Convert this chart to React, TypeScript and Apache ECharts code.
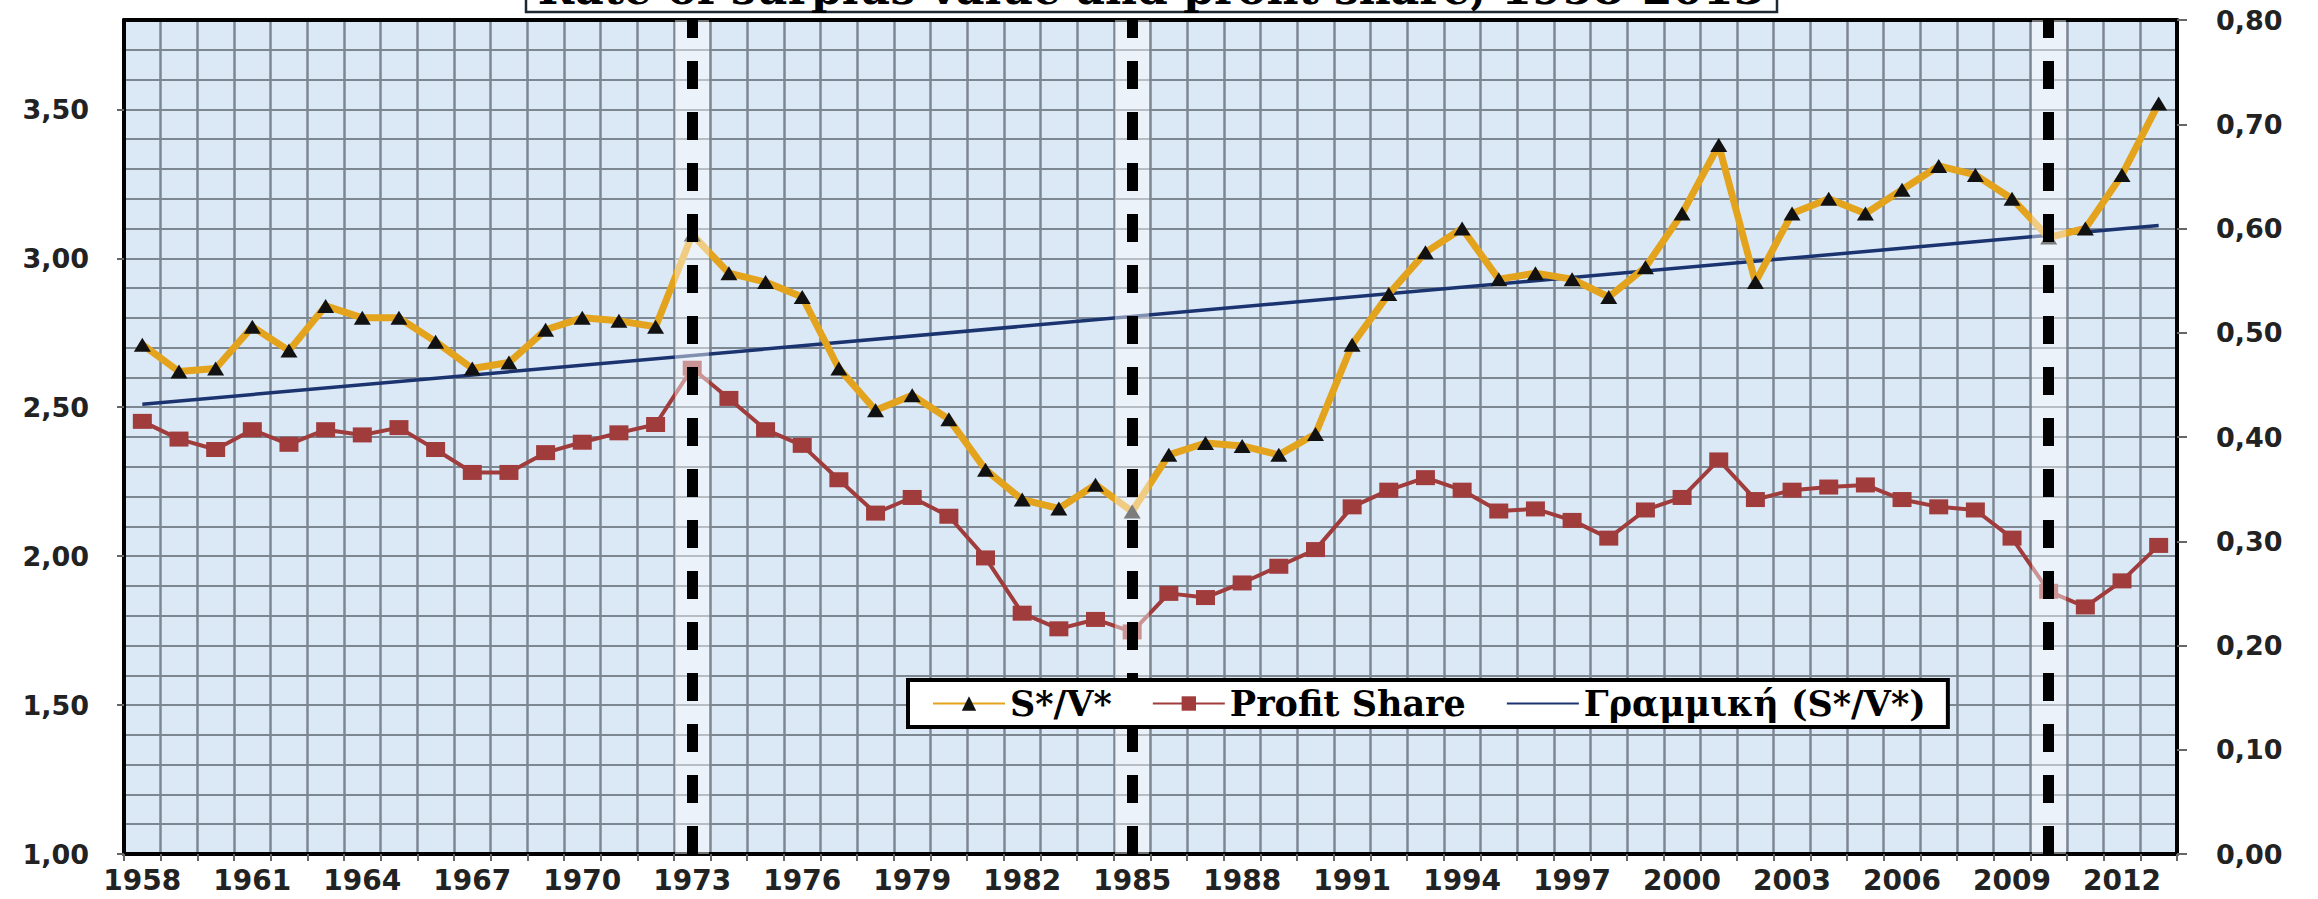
import React, { useEffect, useRef } from "react";
import * as echarts from "echarts";

const years = [
  "1958", "1959", "1960", "1961", "1962", "1963", "1964", "1965", "1966", "1967",
  "1968", "1969", "1970", "1971", "1972", "1973", "1974", "1975", "1976", "1977",
  "1978", "1979", "1980", "1981", "1982", "1983", "1984", "1985", "1986", "1987",
  "1988", "1989", "1990", "1991", "1992", "1993", "1994", "1995", "1996", "1997",
  "1998", "1999", "2000", "2001", "2002", "2003", "2004", "2005", "2006", "2007",
  "2008", "2009", "2010", "2011", "2012", "2013",
];

// S*/V* (left axis)
const surplusRate = [
  2.71, 2.62, 2.63, 2.77, 2.69, 2.84, 2.80, 2.80, 2.72, 2.63,
  2.65, 2.76, 2.80, 2.79, 2.77, 3.08, 2.95, 2.92, 2.87, 2.63,
  2.49, 2.54, 2.46, 2.29, 2.19, 2.16, 2.24, 2.15, 2.34, 2.38,
  2.37, 2.34, 2.41, 2.71, 2.88, 3.02, 3.10, 2.93, 2.95, 2.93,
  2.87, 2.97, 3.15, 3.38, 2.92, 3.15, 3.20, 3.15, 3.23, 3.31,
  3.28, 3.20, 3.07, 3.10, 3.28, 3.52,
];

// Profit Share (right axis)
const profitShare = [
  0.415, 0.398, 0.388, 0.407, 0.393, 0.407, 0.402, 0.409, 0.388, 0.366,
  0.366, 0.385, 0.395, 0.404, 0.412, 0.466, 0.437, 0.407, 0.392, 0.359,
  0.327, 0.342, 0.324, 0.284, 0.231, 0.216, 0.225, 0.213, 0.250, 0.246,
  0.260, 0.276, 0.292, 0.333, 0.349, 0.361, 0.349, 0.329, 0.331, 0.320,
  0.303, 0.330, 0.342, 0.378, 0.340, 0.349, 0.352, 0.354, 0.340, 0.333,
  0.330, 0.303, 0.252, 0.237, 0.262, 0.296,
];

// Linear trend of S*/V* (end points)
const trendYears = ["1958", "2013"];
const trendValues = [2.51, 3.11];

// Vertical dashed markers
const crisisYears = ["1973", "1985", "2010"];

const leftTicks = [1.0, 1.5, 2.0, 2.5, 3.0, 3.5];
const rightTicks = [0.0, 0.1, 0.2, 0.3, 0.4, 0.5, 0.6, 0.7, 0.8];

const seriesNames = ["S*/V*", "Profit Share", "Γραμμική (S*/V*)"];
const titleText = "Rate of surplus value and profit share, 1958-2013";

const fmt = (v: number) => v.toFixed(2).replace(".", ",");
const inList = (list: number[], v: number) => list.some((t) => Math.abs(t - v) < 1e-6);

const GRID_COLOR = "#7D8792";
const AXIS_FONT = {
  fontFamily: "DejaVu Sans",
  fontWeight: "bold" as const,
  fontSize: 27,
  color: "#222222",
};

export default function App() {
  const ref = useRef<HTMLDivElement>(null);

  useEffect(() => {
    if (!ref.current) return;
    const chart = echarts.init(ref.current, null, { renderer: "svg" });

    const option: any = {
      animation: false,
      backgroundColor: "#ffffff",
      grid: {
        left: 124,
        right: 141,
        top: 20,
        bottom: 45,
        show: true,
        backgroundColor: "#DBE8F6",
        borderWidth: 0,
      },
      legend: {
        data: [
          { name: seriesNames[0] },
          { name: seriesNames[1] },
          { name: seriesNames[2], itemStyle: { color: "rgba(0,0,0,0)", borderWidth: 0 } },
        ],
        left: 908,
        top: 680,
        orient: "horizontal",
        padding: [6, 22, 6, 24],
        itemGap: 40,
        itemWidth: 72,
        itemHeight: 18,
        backgroundColor: "#ffffff",
        borderColor: "#000000",
        borderWidth: 4,
        textStyle: {
          fontFamily: "DejaVu Serif",
          fontWeight: "bold",
          fontSize: 35,
          color: "#000000",
        },
        z: 6,
      },
      graphic: [
        {
          type: "rect",
          shape: { x: 526, y: -40, width: 1251, height: 52 },
          style: { fill: "#ffffff", stroke: "#1E2833", lineWidth: 2.5 },
          z: 10,
        },
        {
          type: "text",
          x: 1151,
          y: 10,
          style: {
            text: titleText,
            fontFamily: "DejaVu Serif",
            fontWeight: "bold",
            fontSize: 44,
            fill: "#000000",
            align: "center",
            verticalAlign: "bottom",
          },
          z: 11,
        },
      ],
      xAxis: [
        {
          type: "category",
          data: years,
          boundaryGap: true,
          position: "bottom",
          axisLine: { show: true, lineStyle: { color: "#000000", width: 4 } },
          axisTick: { show: true, interval: 0, length: 7, lineStyle: { color: "#666666", width: 2 } },
          axisLabel: { interval: 2, margin: 12, ...AXIS_FONT, fontSize: 28 },
          splitLine: {
            show: true,
            interval: 0,
            showMinLine: false,
            showMaxLine: false,
            lineStyle: { color: GRID_COLOR, width: 2.5 },
          },
        },
        {
          type: "category",
          data: years,
          position: "top",
          boundaryGap: true,
          axisLine: { show: true, lineStyle: { color: "#000000", width: 4 } },
          axisTick: { show: false },
          axisLabel: { show: false },
          splitLine: { show: false },
        },
      ],
      yAxis: [
        {
          type: "value",
          position: "left",
          min: 1,
          max: 3.8,
          interval: 0.5,
          axisLine: { show: true, lineStyle: { color: "#000000", width: 4 } },
          axisTick: { show: true, length: 7, customValues: leftTicks, lineStyle: { color: "#666666", width: 2 } },
          axisLabel: {
            margin: 35,
            customValues: leftTicks,
            formatter: (v: number) => (inList(leftTicks, v) ? fmt(v) : ""),
            ...AXIS_FONT,
          },
          splitLine: { show: false },
        },
        {
          type: "value",
          position: "right",
          min: 0,
          max: 0.8,
          interval: 0.1,
          axisLine: { show: true, lineStyle: { color: "#000000", width: 4 } },
          axisTick: { show: true, length: 10, lineStyle: { color: "#666666", width: 2 } },
          axisLabel: {
            margin: 39,
            formatter: (v: number) => (inList(rightTicks, v) ? fmt(v) : ""),
            ...AXIS_FONT,
          },
          splitLine: { show: false },
        },
        {
          type: "value",
          position: "left",
          min: 1,
          max: 3.8,
          interval: 0.1,
          axisLine: { show: false },
          axisTick: { show: false },
          axisLabel: { show: false },
          splitLine: {
            show: true,
            showMinLine: false,
            showMaxLine: false,
            lineStyle: { color: GRID_COLOR, width: 2 },
          },
        },
      ],
      series: [
        {
          name: "crisis-markers",
          type: "line",
          xAxisIndex: 0,
          yAxisIndex: 0,
          data: [],
          z: 1,
          silent: true,
          markLine: {
            silent: true,
            symbol: ["none", "none"],
            label: { show: false },
            data: [
              ...crisisYears.map((y) => ({
                xAxis: y,
                lineStyle: { color: "rgba(255,255,255,0.45)", width: 34, type: "solid" },
              })),
              ...crisisYears.map((y) => ({
                xAxis: y,
                lineStyle: { color: "#000000", width: 11, type: [28, 23] },
              })),
            ],
          },
        },
        {
          name: seriesNames[2],
          type: "line",
          xAxisIndex: 0,
          yAxisIndex: 0,
          data: trendYears.map((y, i) => [y, trendValues[i]]),
          showSymbol: false,
          symbol: "none",
          lineStyle: { color: "#1B3470", width: 3.5 },
          itemStyle: { color: "#1B3470" },
          z: 2,
        },
        {
          name: seriesNames[1],
          type: "line",
          xAxisIndex: 0,
          yAxisIndex: 1,
          data: profitShare,
          symbol: "rect",
          symbolSize: [19, 15],
          lineStyle: { color: "#A03C3C", width: 4 },
          itemStyle: { color: "#A03C3C" },
          z: 3,
        },
        {
          name: seriesNames[0],
          type: "line",
          xAxisIndex: 0,
          yAxisIndex: 0,
          data: surplusRate,
          symbol: "triangle",
          symbolSize: [17, 14],
          lineStyle: { color: "#E3A31C", width: 7 },
          itemStyle: { color: "#111111" },
          z: 4,
        },
      ],
    };

    chart.setOption(option);
    return () => chart.dispose();
  }, []);

  return (
    <div
      ref={ref}
      style={{ position: "fixed", left: 0, top: 0, width: 2318, height: 899 }}
    />
  );
}
